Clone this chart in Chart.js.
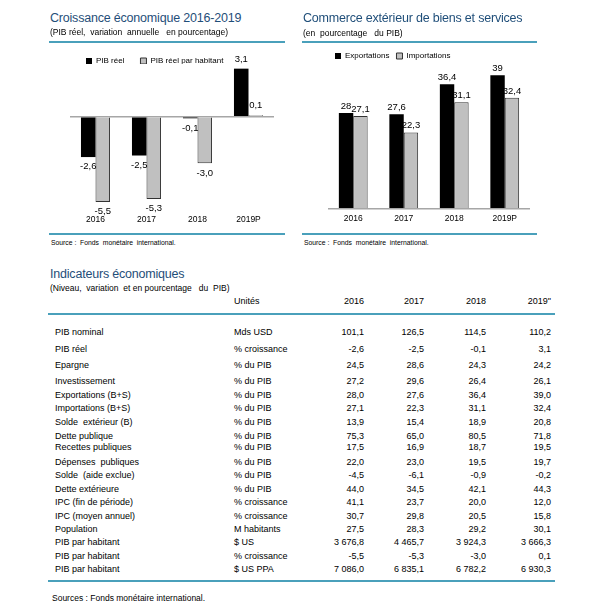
<!DOCTYPE html>
<html>
<head>
<meta charset="utf-8">
<script src="https://cdn.jsdelivr.net/npm/chart.js@4/dist/chart.umd.min.js"></script>
<style>
  body { margin: 0; background: #fff; font-family: "Liberation Sans", Arial, sans-serif; color: #000; }
  #page { position: relative; width: 615px; height: 614px; overflow: hidden; }
  .t { position: absolute; white-space: pre; }
  .r { text-align: right; }
  .line { position: absolute; height: 1.5px; background: #4aa0bb; }
  canvas { position: absolute; }
</style>
</head>
<body>
<div id="page">
  <canvas id="growthChart" width="237" height="189" style="left:48px;top:41px;width:237px;height:189px"></canvas>
  <canvas id="tradeChart" width="235" height="184" style="left:302px;top:45px;width:235px;height:184px"></canvas>
</div>
<script>
// données des graphiques
const years = ['2016', '2017', '2018', '2019P'];
const pibReel = [-2.6, -2.5, -0.1, 3.1];
const pibReelHabitant = [-5.5, -5.3, -3.0, 0.1];
const exportations = [28, 27.6, 36.4, 39];
const importations = [27.1, 22.3, 31.1, 32.4];

// données du tableau
const tableYears = ['2016', '2017', '2018', '2019"'];
const indicateurs = ['PIB nominal', 'PIB réel', 'Epargne', 'Investissement', 'Exportations (B+S)', 'Importations (B+S)',
    'Solde  extérieur (B)', 'Dette publique', 'Recettes publiques', 'Dépenses  publiques', 'Solde  (aide exclue)',
    'Dette extérieure', 'IPC (fin de période)', 'IPC (moyen annuel)', 'Population', 'PIB par habitant',
    'PIB par habitant', 'PIB par habitant'];
const unites = ['Mds USD', '% croissance', '% du PIB', '% du PIB', '% du PIB', '% du PIB', '% du PIB', '% du PIB',
    '% du PIB', '% du PIB', '% du PIB', '% du PIB', '% croissance', '% croissance', 'M habitants', '$ US',
    '% croissance', '$ US PPA'];
const val2016 = [101.1, -2.6, 24.5, 27.2, 28.0, 27.1, 13.9, 75.3, 17.5, 22.0, -4.5, 44.0, 41.1, 30.7, 27.5, 3676.8, -5.5, 7086.0];
const val2017 = [126.5, -2.5, 28.6, 29.6, 27.6, 22.3, 15.4, 65.0, 16.9, 23.0, -6.1, 34.5, 23.7, 29.8, 28.3, 4465.7, -5.3, 6835.1];
const val2018 = [114.5, -0.1, 24.3, 26.4, 36.4, 31.1, 18.9, 80.5, 18.7, 19.5, -0.9, 42.1, 20.0, 20.5, 29.2, 3924.3, -3.0, 6782.2];
const val2019 = [110.2, 3.1, 24.2, 26.1, 39.0, 32.4, 20.8, 71.8, 19.5, 19.7, -0.2, 44.3, 12.0, 15.8, 30.1, 3666.3, 0.1, 6930.3];

const TITLE = '#1f4e79';
const page = document.getElementById('page');

const text = (str, x, y, size, opts = {}) => {
    const d = document.createElement('div');
    d.className = 't' + (opts.right ? ' r' : '');
    d.textContent = str;
    d.style.fontSize = size + 'px';
    d.style.lineHeight = '14px';
    d.style.top = (y - 7) + 'px';
    if (opts.right) d.style.right = (615 - x) + 'px';
    else d.style.left = x + 'px';
    if (opts.color) d.style.color = opts.color;
    if (opts.spacing) d.style.letterSpacing = opts.spacing;
    page.appendChild(d);
}

const hline = (x1, x2, y) => {
    const d = document.createElement('div');
    d.className = 'line';
    d.style.left = x1 + 'px';
    d.style.width = (x2 - x1) + 'px';
    d.style.top = y + 'px';
    page.appendChild(d);
}

const fr = v => {
    const parts = Math.abs(v).toFixed(1).split('.');
    const int = parts[0].replace(/\B(?=(\d{3})+(?!\d))/g, ' ');
    return (v < 0 ? '-' : '') + int + ',' + parts[1];
}

// titres et filets
text('Croissance économique 2016-2019', 50, 18, 12.5, { color: TITLE, spacing: '-0.2px' });
text('(PIB réel,  variation  annuelle   en pourcentage)', 50, 32, 8.5);
hline(49, 285, 41);
hline(49, 285, 233);
text('Source :  Fonds  monétaire  international.', 51, 243, 6.8);

text('Commerce extérieur de biens et services', 303, 18, 12.5, { color: TITLE, spacing: '-0.2px' });
text('(en  pourcentage   du PIB)', 303, 33, 8.5);
hline(302, 537, 41);
hline(302, 537, 233);
text('Source :  Fonds  monétaire  international.', 304, 243, 6.8);

// tableau
const rowY = [332, 349, 365, 381, 395, 408, 422, 436, 447, 462, 475, 489, 502, 516, 529, 542, 556, 569];
const colRight = [364, 424, 486, 551];
const columns = [val2016, val2017, val2018, val2019];

text('Indicateurs économiques', 50, 274, 12.5, { color: TITLE, spacing: '-0.2px' });
text('(Niveau,  variation  et en pourcentage   du  PIB)', 50, 288, 8.5);
text('Unités', 234, 301, 9);
tableYears.forEach((y, i) => text(y, colRight[i], 301, 9, { right: true }));
hline(48, 555, 313);
indicateurs.forEach((name, i) => {
    text(name, 55, rowY[i], 9);
    text(unites[i], 234, rowY[i], 9);
    columns.forEach((col, c) => text(fr(col[i]), colRight[c], rowY[i], 9, { right: true }));
});
hline(48, 555, 580);
text('Sources : Fonds monétaire international.', 52, 598, 8.5);

// étiquettes de valeurs
const valueLabels = {
    id: 'valueLabels',
    afterDatasetsDraw(chart, args, opts) {
        const ctx = chart.ctx;
        ctx.save();
        ctx.font = '9.5px "Liberation Sans", Arial';
        ctx.fillStyle = '#000';
        ctx.textAlign = 'center';
        chart.data.datasets.forEach((ds, i) => {
            chart.getDatasetMeta(i).data.forEach((bar, j) => {
                const v = ds.data[j];
                if (v < 0) {
                    ctx.textBaseline = 'top';
                    ctx.fillText(opts.format(v), bar.x, bar.y + opts.offset);
                } else {
                    ctx.textBaseline = 'bottom';
                    ctx.fillText(opts.format(v), bar.x, bar.y - opts.offset);
                }
            });
        });
        ctx.restore();
    }
}

const zeroGrid = ctx => ctx.tick.value === 0 ? '#a6a6a6' : 'rgba(0,0,0,0)';

const baseOptions = (min, max, step, padLeft, padRight, legendPad, legendH, format, offset) => ({
    responsive: false,
    animation: false,
    layout: { padding: { left: padLeft, right: padRight, top: 0, bottom: 0 } },
    datasets: { bar: { categoryPercentage: 0.57, barPercentage: 1, clip: false } },
    plugins: {
        legend: {
            position: 'top',
            align: 'start',
            maxHeight: legendH,
            labels: {
                boxWidth: 6,
                boxHeight: 6,
                padding: legendPad,
                color: '#000',
                font: { size: 8, family: '"Liberation Sans", Arial' }
            }
        },
        tooltip: { enabled: false },
        valueLabels: { format: format, offset: offset }
    },
    scales: {
        x: {
            grid: { display: false, drawTicks: false },
            border: { display: false },
            ticks: { color: '#000', padding: 5, font: { size: 8.5, family: '"Liberation Sans", Arial' } }
        },
        y: {
            min: min,
            max: max,
            grid: { color: zeroGrid, lineWidth: 1.5, drawTicks: false },
            border: { display: false },
            ticks: { display: false, stepSize: step },
            afterFit: s => { s.width = 0; }
        }
    }
});

new Chart(document.getElementById('growthChart'), {
    type: 'bar',
    data: {
        labels: years,
        datasets: [
            { label: 'PIB réel', data: pibReel, backgroundColor: '#000', borderWidth: 0 },
            { label: 'PIB réel par habitant', data: pibReelHabitant, backgroundColor: '#c0c0c0', borderColor: '#333', borderWidth: 1 }
        ]
    },
    options: baseOptions(-6, 3.4, 0.2, 22, 11, 16, 23, v => v.toFixed(1).replace('.', ','), 5),
    plugins: [valueLabels]
});

new Chart(document.getElementById('tradeChart'), {
    type: 'bar',
    data: {
        labels: years,
        datasets: [
            { label: 'Exportations', data: exportations, backgroundColor: '#000', borderWidth: 0 },
            { label: 'Importations', data: importations, backgroundColor: '#c0c0c0', borderColor: '#333', borderWidth: 1 }
        ]
    },
    options: baseOptions(0, 42, 1, 26, 7, 7, 20, v => String(v).replace('.', ','), 2),
    plugins: [valueLabels]
});
</script>
</body>
</html>
